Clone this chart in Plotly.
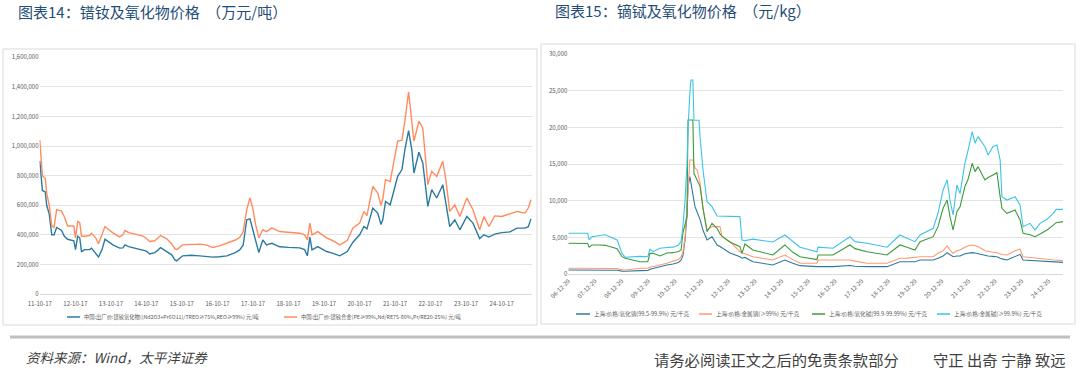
import plotly.graph_objects as go

W, H = 1080, 372

# ---------------- Left chart: 镨钕 (元/吨) ----------------
nd_dates = [
    "2011-10-17", "2011-10-29", "2011-11-13", "2011-12-12", "2011-12-27", "2012-01-22", "2012-02-17",
    "2012-03-12", "2012-04-07", "2012-05-28", "2012-06-26", "2012-07-29", "2012-10-01", "2012-10-18",
    "2012-11-10", "2012-12-01", "2012-12-19", "2013-01-18", "2013-03-12", "2013-04-01", "2013-05-14",
    "2013-06-12", "2013-07-18", "2013-08-17", "2013-11-06", "2013-12-12", "2014-01-15", "2014-02-17",
    "2014-03-12", "2014-04-18", "2014-06-19", "2014-09-08", "2014-10-18", "2014-11-20", "2015-01-11",
    "2015-02-10", "2015-03-12", "2015-05-14", "2015-07-04", "2015-08-06", "2015-08-24", "2015-10-25",
    "2016-01-18", "2016-04-18", "2016-07-01", "2016-08-28", "2016-11-06", "2017-01-22", "2017-04-18",
    "2017-06-02", "2017-07-08", "2017-08-14", "2017-09-16", "2017-10-15", "2017-11-13", "2017-12-16",
    "2018-01-26", "2018-03-05", "2018-04-29", "2018-07-18", "2018-10-18", "2019-02-10", "2019-04-01",
    "2019-04-29", "2019-05-25", "2019-06-16", "2019-08-14", "2019-11-13", "2020-01-18", "2020-03-27",
    "2020-06-12", "2020-08-10", "2020-10-18", "2020-12-01", "2021-01-01", "2021-03-02", "2021-04-22",
    "2021-05-25", "2021-06-12", "2021-07-11", "2021-08-28", "2021-11-13", "2021-12-27", "2022-01-26",
    "2022-03-05", "2022-04-07", "2022-04-29", "2022-06-19", "2022-07-29", "2022-09-19", "2022-10-29",
    "2022-12-19", "2023-02-20", "2023-03-23", "2023-05-02", "2023-06-23", "2023-08-14", "2023-10-25",
    "2023-12-27", "2024-03-05", "2024-04-18", "2024-06-08", "2024-08-06", "2024-10-18", "2025-01-11",
    "2025-03-23", "2025-06-12", "2025-07-18", "2025-08-14",
]
prnd_oxide = [
    900, 800, 700, 690, 600, 540, 400,
    400, 450, 430, 390, 370, 360, 300,
    390, 380, 285, 300, 300, 310, 270,
    250, 300, 370, 332, 320, 310, 312,
    332, 320, 310, 298, 290, 271, 280,
    295, 314, 287, 265, 230, 224, 258,
    262, 258, 255, 249, 252, 258, 280,
    298, 330, 502, 508, 434, 360, 280,
    366, 332, 343, 319, 315, 312, 300,
    258, 384, 298, 320, 287, 275, 258,
    287, 350, 400, 456, 440, 581, 547,
    470, 500, 626, 603, 795, 841, 976,
    1105, 976, 818, 958, 886, 592, 705,
    649, 739, 615, 456, 502, 434, 524,
    479, 375, 400, 385, 405, 415, 420,
    445, 445, 455, 508,
]
prnd_alloy = [
    1040, 930, 800, 780, 680, 600, 460,
    450, 570, 560, 520, 460, 460, 380,
    490, 480, 390, 390, 395, 410, 380,
    340, 400, 456, 413, 400, 386, 400,
    429, 415, 405, 393, 375, 355, 360,
    375, 395, 373, 340, 305, 300, 332,
    335, 337, 330, 314, 325, 343, 365,
    382, 420, 570, 649, 581, 470, 380,
    434, 422, 447, 422, 415, 411, 400,
    366, 479, 400, 422, 380, 360, 332,
    361, 447, 480, 558, 530, 728, 683,
    600, 640, 773, 760, 1033, 1040, 1168,
    1367, 1180, 1033, 1168, 1123, 739, 829,
    795, 897, 773, 558, 603, 524, 649,
    570, 434, 524, 456, 528, 524, 540,
    558, 547, 581, 637,
]
nd_names = ["中国:出厂价:镨钕氧化物((Nd2O3+Pr6O11)/TREO≥75%,REO≥99%) 元/吨",
            "中国:出厂价:镨钕合金(PE≥99%,Nd/RE75-80%,Pr/RE20-25%) 元/吨"]
nd_ticks = [f"{y}-10-17" for y in range(2011, 2025)]

# ---------------- Right chart: 镝铽 (元/kg) ----------------
dt_dates = [
    "2006-12-20", "2007-09-12", "2007-10-01", "2007-11-10", "2008-02-28", "2008-05-08", "2008-10-19",
    "2008-12-24", "2009-02-06", "2009-08-28", "2009-12-13", "2010-01-11", "2010-02-24", "2010-05-28",
    "2010-09-01", "2010-11-24", "2011-02-06", "2011-03-14", "2011-04-07", "2011-05-07", "2011-06-02",
    "2011-06-17", "2011-07-12", "2011-07-26", "2011-08-22", "2011-09-06", "2011-09-20", "2011-10-19",
    "2011-11-14", "2011-11-28", "2012-01-08", "2012-03-03", "2012-05-10", "2012-07-19", "2012-08-28",
    "2012-09-24", "2012-12-02", "2013-01-11", "2013-05-28", "2013-06-24", "2013-08-04", "2013-11-21",
    "2014-08-21", "2015-02-02", "2015-05-22", "2015-08-28", "2016-04-16", "2016-05-01", "2016-11-21",
    "2017-07-12", "2017-09-20", "2018-03-03", "2018-12-02", "2019-05-28", "2019-09-01", "2019-12-20",
    "2020-02-28", "2020-08-25", "2020-10-30", "2021-01-08", "2021-03-04", "2021-04-12", "2021-05-25",
    "2021-07-16", "2021-08-28", "2021-11-02", "2021-12-17", "2022-02-10", "2022-03-22", "2022-05-01",
    "2022-08-04", "2022-09-16", "2022-11-21", "2023-01-15", "2023-02-28", "2023-03-25", "2023-06-02",
    "2023-09-20", "2023-11-28", "2024-01-08", "2024-04-12", "2024-06-20", "2024-08-28", "2024-12-02",
    "2025-02-25", "2025-04-05", "2025-07-08",
]
dy_oxide = [
    590, 600, 600, 620, 620, 600, 560,
    430, 420, 500, 520, 700, 800, 1100,
    1270, 1400, 1600, 1950, 2500, 4680, 8000,
    11950, 13310, 12500, 11050, 10000, 9220, 8500,
    7860, 7500, 6000, 4680, 5130, 4000, 3800,
    3600, 3080, 2900, 2400, 2200, 2300, 1720,
    1270, 1950, 1500, 1180, 1040, 1040, 1040,
    1200, 1100, 1040, 1040, 1720, 1700, 1720,
    1950, 1950, 2180, 2500, 2950, 2700, 2400,
    2500, 2500, 2800, 2900, 2950, 2900, 2800,
    2600, 2500, 2450, 2400, 2200, 2100, 1950,
    2400, 2720, 1950, 1900, 1800, 1780, 1720,
    1680, 1650, 1630,
]
dy_metal = [
    820, 820, 820, 830, 850, 820, 800,
    600, 590, 820, 830, 950, 1050, 1300,
    1500, 1800, 2000, 2400, 3000, 5000, 8770,
    12000, 15590, 15590, 15590, 15000, 14500, 14230,
    12870, 12500, 9000, 6040, 6500, 6500, 6500,
    5130, 4700, 4450, 3080, 2900, 2800, 2400,
    1950, 2630, 2000, 1500, 1500, 1950, 1950,
    1950, 1800, 1500, 1500, 2180, 2200, 2300,
    2400, 2400, 2860, 3200, 3860, 3300, 2860,
    3200, 3310, 3700, 3900, 4000, 3900, 3800,
    3200, 3080, 3000, 2950, 2800, 2700, 2630,
    3200, 3410, 2400, 2300, 2200, 2150, 2050,
    1950, 1900, 1860,
]
tb_oxide = [
    4230, 4200, 3700, 4000, 4000, 3950, 3500,
    2400, 2180, 1720, 1720, 2860, 2860, 2500,
    2900, 2950, 3100, 3310, 5590, 7000, 7860,
    21050, 21050, 21050, 21050, 13780, 13500, 13000,
    12400, 12000, 9000, 5810, 6950, 6270, 5500,
    5200, 4680, 4400, 3770, 2860, 4130, 3310,
    2630, 4000, 3000, 2400, 2000, 2630, 2630,
    4000, 3500, 3080, 2630, 4000, 3700, 3310,
    4450, 5130, 6500, 9000, 10130, 7860, 6040,
    8540, 9220, 11950, 13000, 15140, 14000, 14680,
    12870, 13200, 13550, 13860, 10590, 9000, 8320,
    8770, 7410, 5590, 5400, 5130, 5500, 6040,
    6700, 7040, 7180,
]
tb_metal = [
    5590, 5590, 4680, 5130, 5300, 5400, 4680,
    2860, 2320, 2450, 2400, 3410, 3080, 3550,
    3650, 3700, 4000, 4500, 6500, 10130, 15000,
    20100, 24700, 26500, 26500, 21000, 21000, 21000,
    21000, 18770, 14230, 9900, 9220, 7950, 7950,
    7950, 7900, 7900, 7870, 4680, 4600, 4800,
    4400, 5360, 4500, 3700, 3080, 3700, 3550,
    5130, 4450, 4230, 3700, 5360, 4900, 4450,
    5360, 6270, 8320, 11500, 12870, 10130, 8090,
    12180, 11000, 15140, 16950, 19450, 17870, 18770,
    17400, 16270, 17400, 17640, 15590, 10590, 10130,
    10590, 9450, 6490, 6950, 6040, 6950, 7500,
    8320, 8860, 8860,
]
dt_names = ["上海:价格:氧化镝(99.5-99.9%) 元/千克", "上海:价格:金属镝(≥99%) 元/千克",
            "上海:价格:氧化铽(99.9-99.99%) 元/千克", "上海:价格:金属铽(≥99.9%) 元/千克"]
dt_ticks = [f"{y}-12-20" for y in range(2006, 2025)]

titles = ["图表14：镨钕及氧化物价格  （万元/吨）", "图表15：镝铽及氧化物价格  （元/kg）"]
source_text = "资料来源：Wind，太平洋证券"
disclaimer_left = "请务必阅读正文之后的免责条款部分"
disclaimer_right = "守正 出奇 宁静 致远"

# ---------------- Figure ----------------
FONT = "Noto Sans CJK SC"
fig = go.Figure()

nd_colors = ["#2B7BA1", "#FF8B5E"]
for name, vals, c in zip(nd_names, [prnd_oxide, prnd_alloy], nd_colors):
    fig.add_trace(go.Scatter(x=nd_dates, y=[v * 1000 for v in vals], name=name, mode="lines",
                             line=dict(color=c, width=1.4), xaxis="x", yaxis="y", showlegend=False))

dt_colors = ["#2B7BA1", "#FF9A72", "#3C9A3C", "#3CC3E8"]
for name, vals, c in zip(dt_names, [dy_oxide, dy_metal, tb_oxide, tb_metal], dt_colors):
    fig.add_trace(go.Scatter(x=dt_dates, y=vals, name=name, mode="lines",
                             line=dict(color=c, width=1.1), xaxis="x2", yaxis="y2", showlegend=False))

tickfont = dict(family=FONT, size=6, color="#595959")
grid = "#e3e3e3"

fig.update_layout(
    width=W, height=H, margin=dict(l=0, r=0, t=0, b=0, autoexpand=False),
    paper_bgcolor="white", plot_bgcolor="white",
    font=dict(family=FONT),
    showlegend=False,
    xaxis=dict(domain=[39.5 / W, 532 / W], type="date", range=["2011-10-14", "2025-08-25"],
               tickvals=nd_ticks, tickformat="%y-%m-%d", tickfont=tickfont, showgrid=False,
               showline=True, linecolor="#d9d9d9", ticks="", anchor="y", automargin=False,
               ticklabelstandoff=4),
    yaxis=dict(domain=[1 - 294 / H, 1 - 57.3 / H], range=[0, 1600000], dtick=200000,
               tickformat=",d", tickfont=tickfont, gridcolor=grid, zeroline=False, anchor="x",
               automargin=False),
    xaxis2=dict(domain=[568.3 / W, 1063 / W], type="date", range=["2006-12-20", "2025-07-08"],
                tickvals=dt_ticks, tickformat="%y-%m-%d", tickangle=-45, tickfont=tickfont,
                showgrid=False, showline=True, linecolor="#d9d9d9", ticks="", anchor="y2",
                automargin=False),
    yaxis2=dict(domain=[1 - 274.3 / H, 1 - 54.3 / H], range=[0, 30000], dtick=5000,
                tickformat=",d", tickfont=tickfont, gridcolor=grid, zeroline=False, anchor="x2",
                automargin=False),
)

# panel borders and footer rule
fig.add_shape(type="rect", xref="paper", yref="paper", x0=3 / W, x1=537 / W, y0=1 - 325 / H,
              y1=1 - 49 / H, line=dict(color="#d9d9d9", width=1), layer="below")
fig.add_shape(type="rect", xref="paper", yref="paper", x0=541 / W, x1=1075 / W, y0=1 - 324 / H,
              y1=1 - 44 / H, line=dict(color="#d9d9d9", width=1), layer="below")
fig.add_shape(type="line", xref="paper", yref="paper", x0=10 / W, x1=1070 / W, y0=1 - 337 / H,
              y1=1 - 337 / H, line=dict(color="#bfbfbf", width=3))

# hand-placed legends (compact samples like the original)
legend_font = dict(family=FONT, size=5.3, color="#595959")
left_legend = [(67, 80, 317), (284, 297, 317)]
for (x0, x1, y), name, c in zip(left_legend, nd_names, nd_colors):
    fig.add_shape(type="line", xref="paper", yref="paper", x0=x0 / W, x1=x1 / W, y0=1 - y / H,
                  y1=1 - y / H, line=dict(color=c, width=1.5))
    fig.add_annotation(text=name, xref="paper", yref="paper", x=(x1 + 2) / W, y=1 - y / H,
                       xanchor="left", yanchor="middle", showarrow=False, font=legend_font)
right_font = dict(family=FONT, size=5.6, color="#595959")
right_legend = [(576, 590, 314), (699, 712, 314), (812, 825, 314), (937, 950, 314)]
for (x0, x1, y), name, c in zip(right_legend, dt_names, dt_colors):
    fig.add_shape(type="line", xref="paper", yref="paper", x0=x0 / W, x1=x1 / W, y0=1 - y / H,
                  y1=1 - y / H, line=dict(color=c, width=1.5))
    fig.add_annotation(text=name, xref="paper", yref="paper", x=(x1 + 2) / W, y=1 - y / H,
                       xanchor="left", yanchor="middle", showarrow=False, font=right_font)

title_font = dict(family=FONT, size=15, color="#1F4E79")
fig.add_annotation(text=titles[0], xref="paper", yref="paper", x=16 / W, y=1 - 12 / H,
                   xanchor="left", yanchor="middle", showarrow=False, font=title_font)
fig.add_annotation(text=titles[1], xref="paper", yref="paper", x=553 / W, y=1 - 11 / H,
                   xanchor="left", yanchor="middle", showarrow=False, font=title_font)
fig.add_annotation(text="<i>" + source_text + "</i>", xref="paper", yref="paper", x=24 / W,
                   y=1 - 357 / H, xanchor="left", yanchor="middle", showarrow=False,
                   font=dict(family=FONT, size=13.5, color="#404040"))
foot_font = dict(family=FONT, size=15.3, color="#404040")
fig.add_annotation(text=disclaimer_left, xref="paper", yref="paper", x=652 / W, y=1 - 359 / H,
                   xanchor="left", yanchor="middle", showarrow=False, font=foot_font)
fig.add_annotation(text=disclaimer_right, xref="paper", yref="paper", x=1068 / W, y=1 - 359 / H,
                   xanchor="right", yanchor="middle", showarrow=False, font=foot_font)

fig.write_html("out.html", config={"displayModeBar": False},
               post_script="document.body.style.margin='0';document.body.style.overflow='hidden';")
